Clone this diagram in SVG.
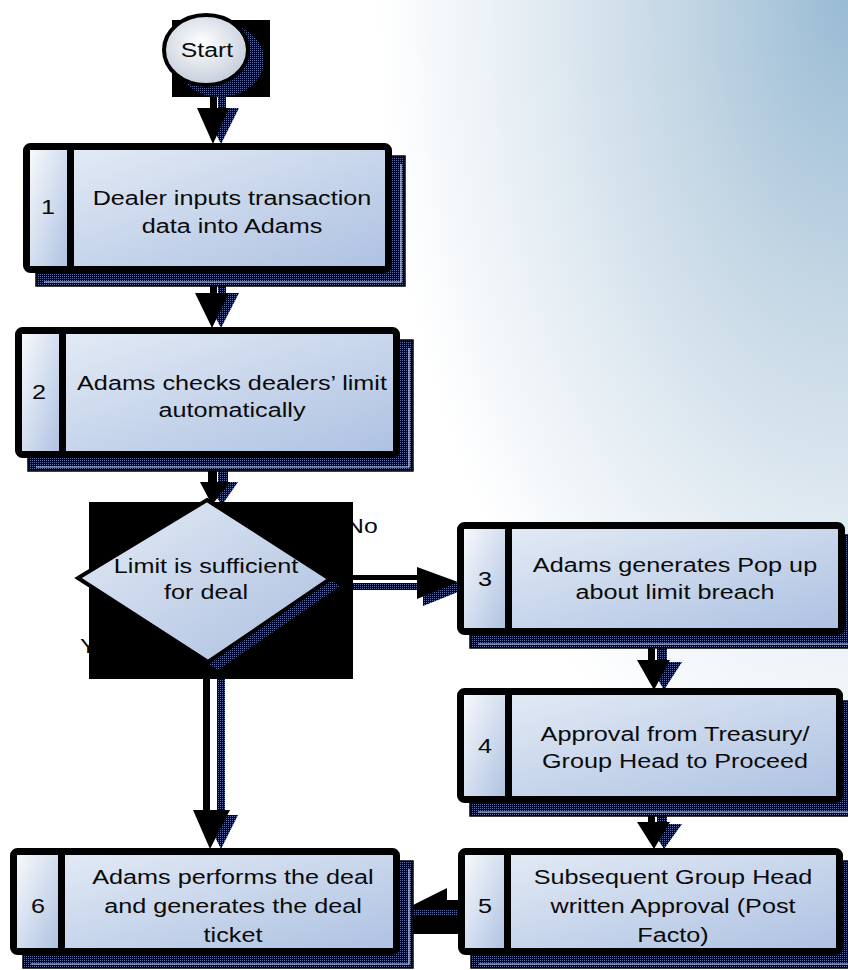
<svg xmlns="http://www.w3.org/2000/svg" width="848" height="970" viewBox="0 0 848 970">
<defs>
<radialGradient id="bg" gradientUnits="userSpaceOnUse" cx="848" cy="0" r="470" gradientTransform="translate(848 0) scale(1 1.75) translate(-848 0)">
<stop offset="0" stop-color="#99bbd4"/><stop offset="0.35" stop-color="#c3d6e4"/><stop offset="0.7" stop-color="#e6eef4"/><stop offset="1" stop-color="#ffffff"/>
</radialGradient>
<linearGradient id="gMain" x1="0" y1="0" x2="1" y2="1"><stop offset="0" stop-color="#e6edf6"/><stop offset="1" stop-color="#adc1e2"/></linearGradient>
<linearGradient id="gCell" x1="0" y1="0" x2="1" y2="1"><stop offset="0" stop-color="#f7f9fc"/><stop offset="1" stop-color="#b0c3e2"/></linearGradient>
<linearGradient id="gDia" x1="0" y1="0" x2="1" y2="1"><stop offset="0" stop-color="#e4ebf5"/><stop offset="1" stop-color="#abbfe0"/></linearGradient>
<radialGradient id="gStart" cx="0.45" cy="0.4" r="0.6"><stop offset="0" stop-color="#ffffff"/><stop offset="1" stop-color="#c5cedb"/></radialGradient>
<pattern id="stip" patternUnits="userSpaceOnUse" width="2" height="2"><rect width="2" height="2" fill="#04060c"/><rect width="1" height="1" fill="#5d6e9e"/></pattern>
<style>
.t{font-family:"Liberation Sans",Arial,Helvetica,sans-serif;font-size:21px;fill:#0a0a0a;text-anchor:middle}
.lbl{font-family:"Liberation Sans",Arial,Helvetica,sans-serif;font-size:21px;fill:#0a0a0a}
.box{fill:url(#gMain);stroke:#000;stroke-width:7}
.cell{fill:url(#gCell)}
.div{stroke:#000;stroke-width:7}
.shd{fill:url(#stip);stroke:#000;stroke-width:1.5}
.shl{fill:none;stroke:#cfd9e8;stroke-width:1.2}
.blk{fill:#000}
.stp{fill:url(#stip)}
</style>
</defs>
<rect width="848" height="970" fill="url(#bg)"/>

<g id="connectors">
<!-- Start -> 1 -->
<rect class="stp" x="218" y="95" width="8" height="15"/>
<rect class="blk" x="210" y="95" width="7" height="15"/>
<polygon class="stp" points="203,108 239,108 221,144"/>
<polygon class="blk" points="197,108 229,108 213,144"/>
<!-- 1 -> 2 -->
<rect class="stp" x="218" y="282" width="8" height="13"/>
<rect class="blk" x="210" y="282" width="7" height="13"/>
<polygon class="stp" points="203,293 239,293 221,328"/>
<polygon class="blk" points="195,293 229,293 212,328"/>
<!-- 2 -> decision -->
<rect class="stp" x="218" y="470" width="10" height="14"/>
<rect class="blk" x="208" y="470" width="9" height="14"/>
<polygon class="stp" points="206,482 238,482 222,505"/>
<polygon class="blk" points="200,482 230,482 212,505"/>
<!-- decision -> 3 (No) -->
<rect class="stp" x="353" y="583" width="112" height="7"/>
<rect class="blk" x="353" y="575" width="68" height="5"/>
<polygon class="stp" points="423,576 423,606 463,590"/>
<polygon class="blk" points="417,567 417,599 458,582"/>
<text class="lbl" transform="translate(346 0) scale(1.18 1)" x="0" y="533">No</text>
<!-- decision -> 6 (Yes) -->
<text class="lbl" transform="translate(80 0) scale(1.18 1)" x="0" y="653">Y</text>
<rect class="stp" x="217" y="679" width="8" height="135"/>
<rect class="blk" x="203" y="679" width="7" height="133"/>
<polygon class="stp" points="204,815 238,815 221,849"/>
<polygon class="blk" points="193,810 230,810 210,849"/>
<!-- 3 -> 4 -->
<rect class="stp" x="657" y="648" width="10" height="14"/>
<rect class="blk" x="648" y="648" width="7" height="14"/>
<polygon class="stp" points="648,662 682,662 664,690"/>
<polygon class="blk" points="637,660 670,660 654,690"/>
<!-- 4 -> 5 -->
<rect class="stp" x="657" y="815" width="10" height="10"/>
<rect class="blk" x="648" y="815" width="7" height="10"/>
<polygon class="stp" points="648,824 682,824 664,849"/>
<polygon class="blk" points="637,822 670,822 654,849"/>
<!-- 5 -> 6 -->
<polygon class="blk" points="447,888 447,900 460,900 460,934 411,934 411,906"/>
<rect class="stp" x="414" y="910" width="64" height="6"/>
</g>

<g id="start">
<rect class="blk" x="172" y="20" width="98" height="77"/>
<ellipse class="stp" cx="220" cy="60" rx="44" ry="37"/>
<ellipse cx="206" cy="50" rx="42" ry="35" fill="url(#gStart)" stroke="#000" stroke-width="4"/>
<text class="t" transform="translate(207 0) scale(1.18 1)" x="0" y="57">Start</text>
</g>

<g id="step1">
<rect class="shd" x="36" y="156" width="369" height="130"/>
<polyline class="shl" points="401,164 401,282 44,282"/>
<rect class="box" x="26.5" y="146.5" width="362" height="123" rx="4"/>
<rect class="cell" x="30" y="150" width="37" height="116"/>
<line class="div" x1="70.5" y1="146" x2="70.5" y2="270"/>
<text class="t" transform="translate(48 0) scale(1.2 1)" x="0" y="214">1</text>
<text class="t" transform="translate(232 0) scale(1.2 1)"><tspan x="0" y="205">Dealer inputs transaction</tspan><tspan x="0" y="233">data into Adams</tspan></text>
</g>

<g id="step2">
<rect class="shd" x="28" y="340" width="385" height="131"/>
<polyline class="shl" points="409,348 409,467 36,467"/>
<rect class="box" x="18.5" y="330.5" width="378" height="124" rx="4"/>
<rect class="cell" x="22" y="334" width="37" height="117"/>
<line class="div" x1="62.5" y1="330" x2="62.5" y2="455"/>
<text class="t" transform="translate(39 0) scale(1.2 1)" x="0" y="399">2</text>
<text class="t" transform="translate(232 0) scale(1.2 1)"><tspan x="0" y="390">Adams checks dealers’ limit</tspan><tspan x="0" y="417">automatically</tspan></text>
</g>

<g id="decision">
<rect class="blk" x="89" y="502" width="264" height="177"/>
<polygon class="stp" points="217,508 340,586 218,670 88,586"/>
<polygon points="207,500 330,579 208,662 78,578" fill="url(#gDia)" stroke="#000" stroke-width="4" stroke-linejoin="miter"/>
<text class="t" transform="translate(206 0) scale(1.2 1)"><tspan x="0" y="573">Limit is sufficient</tspan><tspan x="0" y="599">for deal</tspan></text>
</g>

<g id="step3">
<rect class="shd" x="470" y="535" width="388" height="113"/>
<polyline class="shl" points="854,543 854,644 478,644"/>
<rect class="box" x="460.5" y="525.5" width="381" height="106" rx="4"/>
<rect class="cell" x="464" y="529" width="41" height="99"/>
<line class="div" x1="508.5" y1="525" x2="508.5" y2="632"/>
<text class="t" transform="translate(485 0) scale(1.2 1)" x="0" y="586">3</text>
<text class="t" transform="translate(675 0) scale(1.2 1)"><tspan x="0" y="572">Adams generates Pop up</tspan><tspan x="0" y="599">about limit breach</tspan></text>
</g>

<g id="step4">
<rect class="shd" x="470" y="701" width="386" height="115"/>
<polyline class="shl" points="852,709 852,812 478,812"/>
<rect class="box" x="460.5" y="691.5" width="379" height="108" rx="4"/>
<rect class="cell" x="464" y="695" width="41" height="101"/>
<line class="div" x1="508.5" y1="691" x2="508.5" y2="800"/>
<text class="t" transform="translate(485 0) scale(1.2 1)" x="0" y="753">4</text>
<text class="t" transform="translate(675 0) scale(1.2 1)"><tspan x="0" y="741">Approval from Treasury/</tspan><tspan x="0" y="768">Group Head to Proceed</tspan></text>
</g>

<g id="step5">
<rect class="shd" x="471" y="861" width="385" height="107"/>
<polyline class="shl" points="852,869 852,964 479,964"/>
<rect class="box" x="461.5" y="851.5" width="378" height="100" rx="4"/>
<rect class="cell" x="465" y="855" width="40" height="93"/>
<line class="div" x1="507.5" y1="851" x2="507.5" y2="952"/>
<text class="t" transform="translate(485 0) scale(1.2 1)" x="0" y="913">5</text>
<text class="t" transform="translate(673 0) scale(1.2 1)"><tspan x="0" y="884">Subsequent Group Head</tspan><tspan x="0" y="913">written Approval (Post</tspan><tspan x="0" y="942">Facto)</tspan></text>
</g>

<g id="step6">
<rect class="shd" x="23" y="861" width="390" height="107"/>
<polyline class="shl" points="409,869 409,964 31,964"/>
<rect class="box" x="13.5" y="851.5" width="383" height="100" rx="4"/>
<rect class="cell" x="17" y="855" width="41" height="93"/>
<line class="div" x1="61.5" y1="851" x2="61.5" y2="952"/>
<text class="t" transform="translate(38 0) scale(1.2 1)" x="0" y="913">6</text>
<text class="t" transform="translate(233 0) scale(1.2 1)"><tspan x="0" y="884">Adams performs the deal</tspan><tspan x="0" y="913">and generates the deal</tspan><tspan x="0" y="942">ticket</tspan></text>
</g>
</svg>
